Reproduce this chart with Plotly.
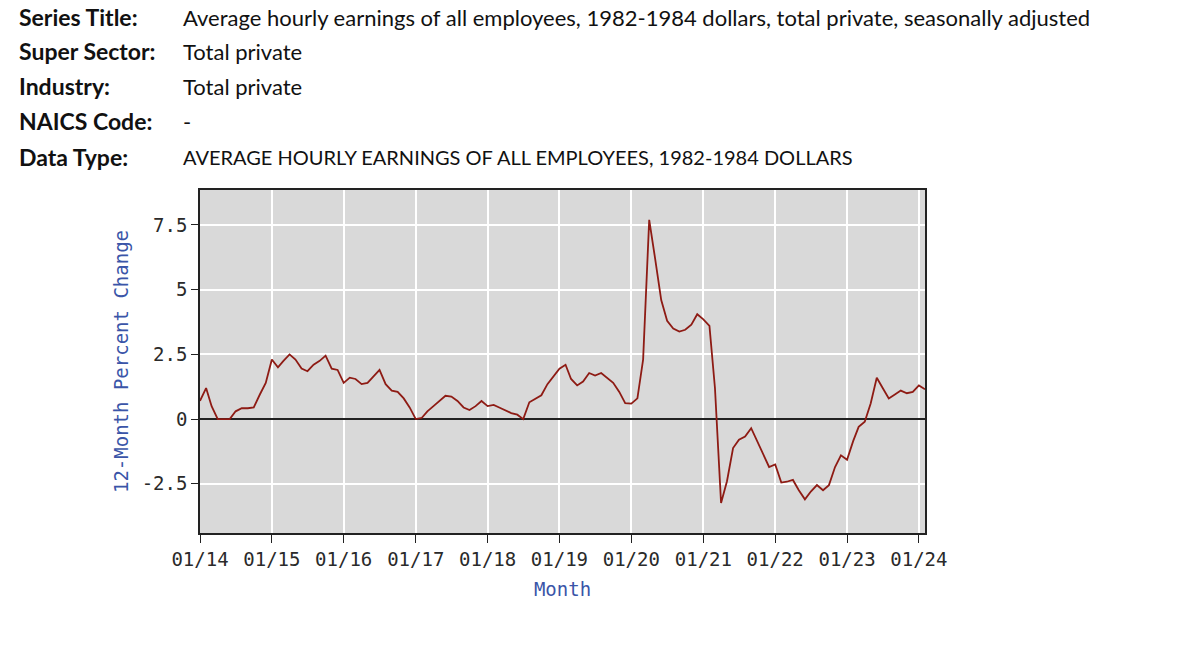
import plotly.graph_objects as go
import pandas as pd

# ---- data ----
start_month = "2014-01-01"
pct_change = [
    0.7, 1.2, 0.5, 0.0, 0.0, 0.0, 0.3, 0.42, 0.42, 0.45, 0.95, 1.4,      # 2014
    2.3, 2.0, 2.25, 2.5, 2.3, 1.95, 1.85, 2.1, 2.25, 2.45, 1.95, 1.9,     # 2015
    1.4, 1.6, 1.55, 1.35, 1.4, 1.65, 1.9, 1.35, 1.1, 1.05, 0.8, 0.45,     # 2016
    0.0, 0.05, 0.3, 0.5, 0.7, 0.9, 0.87, 0.7, 0.45, 0.35, 0.5, 0.7,       # 2017
    0.5, 0.55, 0.45, 0.35, 0.23, 0.17, 0.0, 0.65, 0.78, 0.92, 1.35, 1.65, # 2018
    1.95, 2.1, 1.55, 1.3, 1.45, 1.78, 1.68, 1.78, 1.58, 1.4, 1.05, 0.62,  # 2019
    0.6, 0.8, 2.3, 7.7, 6.2, 4.6, 3.8, 3.5, 3.38, 3.45, 3.65, 4.05,       # 2020
    3.85, 3.6, 1.2, -3.24, -2.4, -1.12, -0.8, -0.67, -0.35, -0.85, -1.35, -1.85,  # 2021
    -1.75, -2.45, -2.42, -2.35, -2.75, -3.1, -2.8, -2.55, -2.75, -2.55, -1.85, -1.4,  # 2022
    -1.57, -0.85, -0.3, -0.1, 0.6, 1.6, 1.2, 0.8, 0.95, 1.1, 1.0, 1.05,   # 2023
    1.3, 1.15,                                                            # 2024
]
x_tick_labels = ["01/14", "01/15", "01/16", "01/17", "01/18", "01/19",
                 "01/20", "01/21", "01/22", "01/23", "01/24"]
y_tick_values = [-2.5, 0, 2.5, 5, 7.5]
y_tick_labels = ["-2.5", "0", "2.5", "5", "7.5"]

header_labels = ["Series Title:", "Super Sector:", "Industry:", "NAICS Code:", "Data Type:"]
header_values = [
    "Average hourly earnings of all employees, 1982-1984 dollars, total private, seasonally adjusted",
    "Total private",
    "Total private",
    "-",
    "AVERAGE HOURLY EARNINGS OF ALL EMPLOYEES, 1982-1984 DOLLARS",
]
header_value_sizes = [22, 22, 22, 22, 20]

months = pd.date_range(start_month, periods=len(pct_change), freq="MS")
tick_dates = pd.date_range(start_month, periods=len(x_tick_labels), freq="12MS")

# ---- layout geometry ----
W, H = 1200, 655
L, R, T, B = 200, 275, 190, 122
PW, PH = W - L - R, H - T - B

def px_to_paper(px, py):
    return (px - L) / PW, (H - B - py) / PH

mono = "DejaVu Sans Mono"
blue = "#3a55a8"

fig = go.Figure()
fig.add_trace(go.Scatter(
    x=months, y=pct_change, mode="lines",
    line=dict(color="#8e1b14", width=1.8),
    hoverinfo="x+y", showlegend=False,
))

annotations = []
row_y = [17, 51, 86, 121, 157]
for lab, val, vs, ry in zip(header_labels, header_values, header_value_sizes, row_y):
    ax, ay = px_to_paper(17, ry)
    annotations.append(dict(
        text="<b>" + lab + "</b>", x=ax, y=ay, xref="paper", yref="paper",
        xanchor="left", yanchor="middle", showarrow=False,
        font=dict(family="Lato", size=23, color="#111111")))
    vx, vy = px_to_paper(181, ry)
    annotations.append(dict(
        text=val, x=vx, y=vy, xref="paper", yref="paper",
        xanchor="left", yanchor="middle", showarrow=False,
        font=dict(family="Lato", size=vs, color="#111111")))

fig.update_layout(
    width=W, height=H,
    margin=dict(l=L, r=R, t=T, b=B, autoexpand=False),
    paper_bgcolor="white",
    plot_bgcolor="#d9d9d9",
    annotations=annotations,
    xaxis=dict(
        range=[months[0], months[-1]],
        tickmode="array", tickvals=list(tick_dates), ticktext=x_tick_labels,
        ticks="outside", ticklen=8, tickwidth=1.3, tickcolor="#222222",
        tickfont=dict(family=mono, size=19, color="#2a2a2a"),
        showgrid=True, gridcolor="white", gridwidth=1.6,
        showline=True, linecolor="#222222", linewidth=1.5, mirror=True,
        zeroline=False, automargin=False,
        title=dict(text="Month", font=dict(family=mono, size=19, color=blue), standoff=14),
    ),
    yaxis=dict(
        range=[-4.4, 8.85],
        tickmode="array", tickvals=y_tick_values, ticktext=y_tick_labels,
        ticks="outside", ticklen=7, tickwidth=1.3, tickcolor="#222222",
        tickfont=dict(family=mono, size=19, color="#2a2a2a"),
        showgrid=True, gridcolor="white", gridwidth=1.6,
        showline=True, linecolor="#222222", linewidth=1.5, mirror=True,
        zeroline=True, zerolinecolor="#222222", zerolinewidth=1.5,
        automargin=False,
        title=dict(text="12-Month Percent Change", font=dict(family=mono, size=19, color=blue), standoff=8),
    ),
)

fig.write_html("out.html")
